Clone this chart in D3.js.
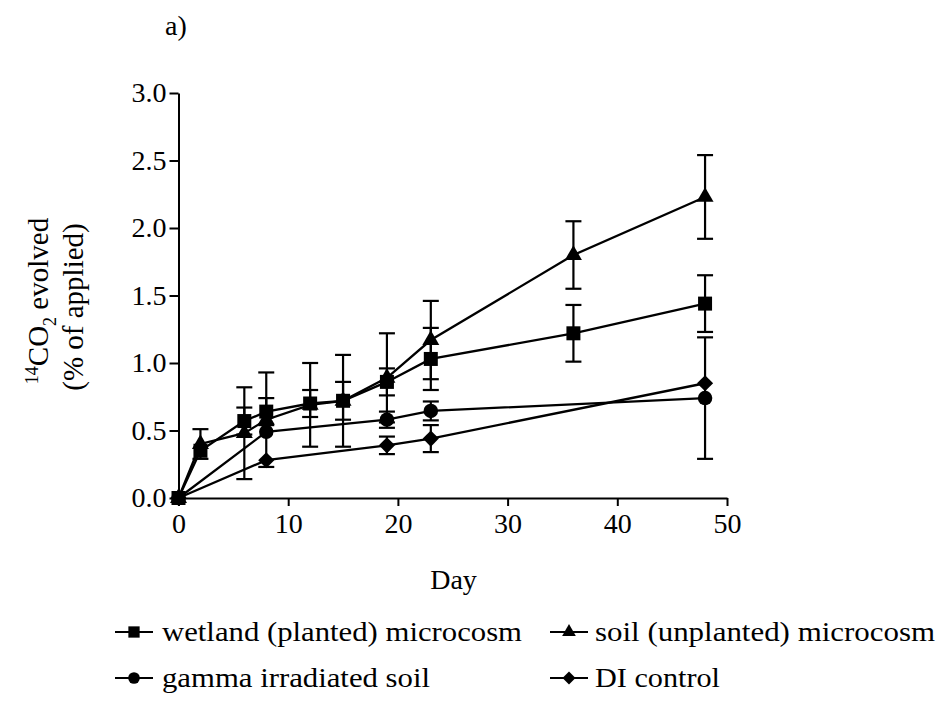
<!DOCTYPE html>
<html>
<head>
<meta charset="utf-8">
<script src="https://cdn.jsdelivr.net/npm/d3@7"></script>
<style>
  html, body { margin: 0; padding: 0; background: #fff; }
  svg { display: block; }
  text { font-family: "Liberation Serif", "Times New Roman", serif; fill: #000; }
</style>
</head>
<body>
<svg id="chart" width="946" height="702"></svg>
<script>
// 14CO2 evolved (% of applied) over time, mean ± error, four treatments
const seriesNames = [
  "wetland (planted) microcosm",
  "soil (unplanted) microcosm",
  "gamma irradiated soil",
  "DI control"
];

const wetlandDays   = [0, 2, 6, 8, 12, 15, 19, 23, 36, 48];
const wetlandValues = [0, 0.35, 0.57, 0.64, 0.70, 0.72, 0.86, 1.03, 1.22, 1.44];
const wetlandErrors = [0, 0, 0.10, 0.10, 0.10, 0.14, 0.10, 0.23, 0.21, 0.21];

const soilDays   = [0, 2, 6, 8, 12, 15, 19, 23, 36, 48];
const soilValues = [0, 0.40, 0.48, 0.58, 0.69, 0.72, 0.89, 1.17, 1.80, 2.23];
const soilErrors = [0, 0.11, 0.34, 0.35, 0.31, 0.34, 0.33, 0.29, 0.25, 0.31];

const gammaDays   = [0, 8, 19, 23, 48];
const gammaValues = [0, 0.49, 0.58, 0.645, 0.74];
const gammaErrors = [0, 0, 0.06, 0.07, 0.45];

const controlDays   = [0, 8, 19, 23, 48];
const controlValues = [0, 0.28, 0.39, 0.44, 0.85];
const controlErrors = [0, 0, 0.065, 0.10, 0];

const xTicks = [0, 10, 20, 30, 40, 50];
const yTicks = [0, 0.5, 1.0, 1.5, 2.0, 2.5, 3.0];

const svg = d3.select("#chart");

const x = d3.scaleLinear().domain([0, 50]).range([178.5, 727]);
const y = d3.scaleLinear().domain([0, 3]).range([498, 93]);

function zip(days, vals, errs) {
  return days.map((d, i) => ({ day: d, value: vals[i], err: errs[i] }));
}

const shapes = {
  square:   { type: d3.symbolSquare,   size: 196, rotate: 0 },
  triangle: { type: d3.symbolTriangle, size: 125, rotate: 0 },
  circle:   { type: d3.symbolCircle,   size: 165, rotate: 0 },
  diamond:  { type: d3.symbolSquare,   size: 130, rotate: 45 }
};

const series = [
  { name: seriesNames[0], shape: "square",   data: zip(wetlandDays, wetlandValues, wetlandErrors) },
  { name: seriesNames[1], shape: "triangle", data: zip(soilDays, soilValues, soilErrors) },
  { name: seriesNames[2], shape: "circle",   data: zip(gammaDays, gammaValues, gammaErrors) },
  { name: seriesNames[3], shape: "diamond",  data: zip(controlDays, controlValues, controlErrors) }
];

// Axes
const xAxis = d3.axisBottom(x).tickValues(xTicks).tickFormat(d3.format("d"))
  .tickSize(8).tickSizeOuter(0).tickPadding(7);
const yAxis = d3.axisLeft(y).tickValues(yTicks).tickFormat(d3.format(".1f"))
  .tickSize(9).tickSizeOuter(0).tickPadding(3);

const gx = svg.append("g").attr("transform", `translate(0,${y(0)})`).call(xAxis);
const gy = svg.append("g").attr("transform", `translate(${x(0)},0)`).call(yAxis);
[gx, gy].forEach(g => {
  g.select(".domain").attr("stroke", "#000").attr("stroke-width", 2);
  g.selectAll(".tick line").attr("stroke", "#000").attr("stroke-width", 2);
  g.selectAll(".tick text").attr("font-size", 28).attr("fill", "#000");
});

// Series: lines, error bars, markers (drawn so the first series ends up on top)
const line = d3.line().x(d => x(d.day)).y(d => y(d.value));
const capHalf = 8;

series.slice().reverse().forEach(s => {
  const g = svg.append("g");
  g.append("path").datum(s.data).attr("d", line)
    .attr("fill", "none").attr("stroke", "#000").attr("stroke-width", 2.3);

  const eb = g.selectAll(".eb").data(s.data.filter(d => d.err > 0)).enter().append("g");
  eb.append("line")
    .attr("x1", d => x(d.day)).attr("x2", d => x(d.day))
    .attr("y1", d => y(d.value + d.err)).attr("y2", d => y(d.value - d.err))
    .attr("stroke", "#000").attr("stroke-width", 2.2);
  [1, -1].forEach(sign => {
    eb.append("line")
      .attr("x1", d => x(d.day) - capHalf).attr("x2", d => x(d.day) + capHalf)
      .attr("y1", d => y(d.value + sign * d.err)).attr("y2", d => y(d.value + sign * d.err))
      .attr("stroke", "#000").attr("stroke-width", 2.2);
  });

  const sh = shapes[s.shape];
  g.selectAll(".mk").data(s.data).enter().append("path")
    .attr("d", d3.symbol().type(sh.type).size(sh.size))
    .attr("transform", d => `translate(${x(d.day)},${y(d.value)}) rotate(${sh.rotate})`)
    .attr("fill", "#000");
});

// Panel label
svg.append("text").attr("x", 165).attr("y", 35).attr("font-size", 28).text("a)");

// Axis titles
svg.append("text").attr("x", 453.5).attr("y", 589).attr("font-size", 28)
  .attr("text-anchor", "middle").text("Day");

const yt1 = svg.append("text").attr("transform", "translate(48,301) rotate(-90)")
  .attr("text-anchor", "middle").attr("font-size", 29);
yt1.append("tspan").attr("font-size", 18).attr("dy", -10).text("14");
yt1.append("tspan").attr("dy", 10).text("CO");
yt1.append("tspan").attr("font-size", 18).attr("dy", 8).text("2");
yt1.append("tspan").attr("dy", -8).text(" evolved");

svg.append("text").attr("transform", "translate(83,307) rotate(-90)")
  .attr("text-anchor", "middle").attr("font-size", 29).text("(% of applied)");

// Legend
const legendItems = [
  { s: series[0], lx: 115, tx: 162, cy: 632, w: 360 },
  { s: series[1], lx: 550, tx: 595, cy: 632, w: 340 },
  { s: series[2], lx: 115, tx: 162, cy: 678, w: 268 },
  { s: series[3], lx: 550, tx: 595, cy: 678, w: 125 }
];
legendItems.forEach(it => {
  const g = svg.append("g");
  g.append("line").attr("x1", it.lx).attr("x2", it.lx + 38)
    .attr("y1", it.cy).attr("y2", it.cy).attr("stroke", "#000").attr("stroke-width", 2.2);
  const sh = shapes[it.s.shape];
  g.append("path").attr("d", d3.symbol().type(sh.type).size(sh.size * 0.65))
    .attr("transform", `translate(${it.lx + 19},${it.cy}) rotate(${sh.rotate})`)
    .attr("fill", "#000");
  g.append("text").attr("x", it.tx).attr("y", it.cy + 9).attr("font-size", 28)
    .attr("textLength", it.w).attr("lengthAdjust", "spacingAndGlyphs")
    .text(it.s.name);
});
</script>
</body>
</html>
